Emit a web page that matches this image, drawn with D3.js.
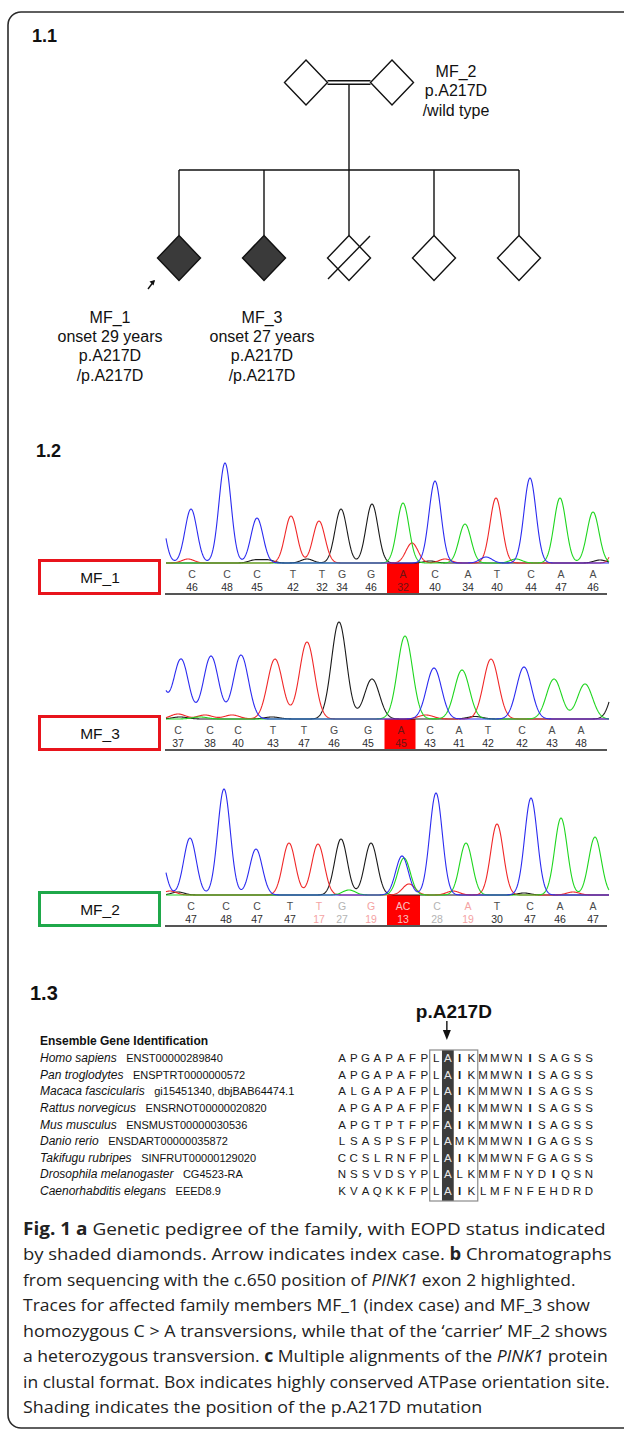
<!DOCTYPE html>
<html><head><meta charset="utf-8">
<script src="https://cdn.jsdelivr.net/npm/d3@7"></script>
<style>body{margin:0;background:#fff}svg{display:block}</style>
</head><body>
<svg id="fig" width="624" height="1432"></svg>
<script>
// ================= DATA =================
const panelLabels = ["1.1", "1.2", "1.3"];

// ---- 1.1 pedigree ----
const parents = ["father", "mother"];
const children = ["MF_1", "MF_3", "sib3", "sib4", "sib5"];
const childAffected = [true, true, false, false, false];
const childDeceased = [false, false, true, false, false];
const indexCase = "MF_1";
const mf2Label = ["MF_2", "p.A217D", "/wild type"];
const childLabels = {
  "MF_1": ["MF_1", "onset 29 years", "p.A217D", "/p.A217D"],
  "MF_3": ["MF_3", "onset 27 years", "p.A217D", "/p.A217D"]
};

// ---- 1.2 chromatograms ----
const samples = ["MF_1", "MF_3", "MF_2"];
const sampleStatus = ["affected", "affected", "carrier"];
const baseLetters = [
  ["C","C","C","T","T","G","G","A","C","A","T","C","A","A"],
  ["C","C","C","T","T","G","G","A","C","A","T","C","A","A"],
  ["C","C","C","T","T","G","G","AC","C","A","T","C","A","A"]
];
const baseQuality = [
  [46,48,45,42,32,34,46,32,40,34,40,44,47,46],
  [37,38,40,43,47,46,45,45,43,41,42,42,43,48],
  [47,48,47,47,17,27,19,13,28,19,30,47,46,47]
];
// scan position of each base call
const baseScan = [
  [26,61,91,127,156,176,205,237,269,302,331,365,395,427],
  [12,44,72,107,138,168,202,235,264,293,322,356,386,415],
  [25,60,91,124,153,176,205,237,271,302,331,364,394,427]
];
const mutatedBase = 7; // c.650
// peaks: [channel, scan position, signal height]
const peaksMF1 = [
  ["C",-8,60],["C",25,54],["C",59,100],["C",91,45],["T",125,47],["T",153,42],
  ["G",175,54],["G",206,59],["A",237,60],["T",246,20],["C",269,82],["A",299,39],
  ["T",330,65],["C",364,85],["A",394,65],["A",427,51],["T",456,60],
  ["T",22,4],["G",89,3],["G",102,3],["G",141,4],["C",320,6],["A",350,4],
  ["G",434,3],["T",279,4],["G",264,2]
];
const peaksMF3 = [
  ["C",-11,60],["C",15,60],["C",45,63],["C",75,64],["T",109,60],["T",141,77],
  ["G",173,97],["G",206,40],["A",239,83],["C",268,51],["A",296,49],["T",325,60],
  ["C",358,52],["A",388,40],["A",419,35],["G",454,50],
  ["T",12,5],["T",39,4],["T",66,4],["G",14,2],["G",106,2],["T",260,4],["G",309,2.5],["A",34,2]
];
const peaksMF2 = [
  ["C",-8,50],["C",24,57],["C",58,106],["C",90,46],["T",123,52],["T",152,51],
  ["G",175,56],["G",205,52],["C",236,39],["A",238,37],["T",243,11],["C",270,102],
  ["A",300,52],["T",331,71],["C",365,97],["A",395,77],["A",429,58],
  ["A",183,5],["T",287,4],["G",12,3],["T",4,4],["G",358,2],["T",407,3]
];
const samplePeaks = [peaksMF1, peaksMF3, peaksMF2];
const channels = ["G", "T", "A", "C"];
const channelColors = ["#1a1a1a", "#f02828", "#1fd61f", "#2b2bf0"];

// ---- 1.3 alignment ----
const alignHeader = "Ensemble Gene Identification";
const species = ["Homo sapiens","Pan troglodytes","Macaca fascicularis","Rattus norvegicus",
  "Mus musculus","Danio rerio","Takifugu rubripes","Drosophila melanogaster","Caenorhabditis elegans"];
const speciesIds = ["ENST00000289840","ENSPTRT0000000572","gi15451340, dbjBAB64474.1",
  "ENSRNOT00000020820","ENSMUST00000030536","ENSDART00000035872","SINFRUT00000129020",
  "CG4523-RA","EEED8.9"];
const sequences = [
  "APGAPAFPLAIKMMWNISAGSS","APGAPAFPLAIKMMWNISAGSS","ALGAPAFPLAIKMMWNISAGSS",
  "APGAPAFPFAIKMMWNISAGSS","APGTPTFPFAIKMMWNISAGSS","LSASPSFPLAMKMMWNIGAGSS",
  "CCSLRNFPLAIKMMWNFGAGSS","NSSVDSYPLALKMMFNYDIQSN","KVAQKKFPLAIKLMFNFEHDRD"];
const conservedBox = [8, 11];
const mutationColumn = 9;
const mutationLabel = "p.A217D";

// ---- caption ----
const captionLines = [
  [["Fig. 1","b"],[" "],["a","b"],[" Genetic pedigree of the family, with EOPD status indicated"]],
  [["by shaded diamonds. Arrow indicates index case. "],["b","b"],[" Chromatographs"]],
  [["from sequencing with the c.650 position of "],["PINK1","i"],[" exon 2 highlighted."]],
  [["Traces for affected family members MF_1 (index case) and MF_3 show"]],
  [["homozygous C > A transversions, while that of the \u2018carrier\u2019 MF_2 shows"]],
  [["a heterozygous transversion. "],["c","b"],[" Multiple alignments of the "],["PINK1","i"],[" protein"]],
  [["in clustal format. Box indicates highly conserved ATPase orientation site."]],
  [["Shading indicates the position of the p.A217D mutation"]]
];

// ================= DRAW =================
const svg = d3.select("#fig");
const SANS = "'Liberation Sans', Arial, sans-serif";

// frame
svg.append("path")
  .attr("d", "M626,12H21A13,13 0 0 0 8,25V1415A13,13 0 0 0 21,1428H626")
  .attr("fill", "none").attr("stroke", "#2b2b2b").attr("stroke-width", 1.6);

// panel labels
const labelPos = [[32, 42, 18], [36, 457, 18], [30, 1000, 20]];
svg.selectAll("text.plabel").data(panelLabels).join("text")
  .attr("class", "plabel")
  .attr("x", (d, i) => labelPos[i][0]).attr("y", (d, i) => labelPos[i][1])
  .attr("font-family", SANS).attr("font-weight", "bold")
  .attr("font-size", (d, i) => labelPos[i][2]).attr("fill", "#111")
  .text(d => d);

// ---------- pedigree ----------
const ped = svg.append("g").attr("stroke", "#111").attr("stroke-width", 1.4).attr("fill", "none");
const parentX = d3.scalePoint().domain(parents).range([306, 392]);
const childX = d3.scalePoint().domain(children).range([179, 519]);
const genY = d3.scalePoint().domain(["I", "II"]).range([82.5, 258]);
const sibY = 170;
const hw = 21.5, hh = 22.5;
const diamond = (cx, cy) => `M${cx},${cy - hh}L${cx + hw},${cy}L${cx},${cy + hh}L${cx - hw},${cy}Z`;

const pL = parentX(parents[0]), pR = parentX(parents[1]), yI = genY("I"), yII = genY("II");
[-1.8, 1.8].forEach(off => ped.append("line")
  .attr("x1", pL + hw).attr("x2", pR - hw).attr("y1", yI + off).attr("y2", yI + off));
const midX = (pL + pR) / 2;
ped.append("line").attr("x1", midX).attr("x2", midX).attr("y1", yI + 1.8).attr("y2", sibY);
ped.append("line").attr("x1", childX(children[0])).attr("x2", childX(children[children.length - 1]))
  .attr("y1", sibY).attr("y2", sibY);
ped.selectAll("line.drop").data(children).join("line").attr("class", "drop")
  .attr("x1", d => childX(d)).attr("x2", d => childX(d)).attr("y1", sibY).attr("y2", yII - hh);
ped.selectAll("path.par").data(parents).join("path").attr("class", "par")
  .attr("d", d => diamond(parentX(d), yI)).attr("fill", "#fff");
ped.selectAll("path.kid").data(children).join("path").attr("class", "kid")
  .attr("d", d => diamond(childX(d), yII))
  .attr("fill", (d, i) => childAffected[i] ? "#3a3a3a" : "#fff");
children.forEach((c, i) => {
  if (childDeceased[i]) {
    const cx = childX(c);
    ped.append("line").attr("x1", cx - 21).attr("y1", yII + 21).attr("x2", cx + 21).attr("y2", yII - 22);
  }
});
// index arrow
{
  const cx = childX(indexCase);
  const tip = [cx - 25, yII + 23], tail = [cx - 31, yII + 31];
  ped.append("line").attr("x1", tail[0]).attr("y1", tail[1]).attr("x2", tip[0]).attr("y2", tip[1]);
  ped.append("path").attr("fill", "#111").attr("stroke", "none")
    .attr("d", `M${tip[0] + 1},${tip[1] - 1}L${tip[0] - 4.5},${tip[1] + 0.5}L${tip[0] - 0.5},${tip[1] + 4.5}Z`);
}
// labels
const pedText = svg.append("g").attr("font-family", SANS).attr("font-size", 16)
  .attr("fill", "#111").attr("text-anchor", "middle");
pedText.selectAll("text.m2").data(mf2Label).join("text").attr("class", "m2")
  .attr("x", pR + 64).attr("y", (d, i) => 77 + i * 19.3).text(d => d);
const childLabelX = { "MF_1": childX("MF_1") - 69, "MF_3": childX("MF_3") - 2 };
Object.keys(childLabels).forEach(k => {
  pedText.selectAll(null).data(childLabels[k]).join("text")
    .attr("x", childLabelX[k]).attr("y", (d, i) => 323 + i * 19.2).text(d => d);
});

// ---------- chromatograms ----------
const chromBase = [563, 719, 895];
const sigma = [6, 7.5, 6.3];
const xScan = d3.scaleLinear().domain([0, 443]).range([166, 609]);
const qualColor = q => q < 20 ? "#f4a3a3" : q < 30 ? "#b4b4b4" : "#4a4a4a";
const hiColor = q => q < 20 ? "#f8c0c0" : "#6e1414";
const boxColor = { affected: "#e8141c", carrier: "#1fa84a" };

samples.forEach((s, si) => {
  const base = chromBase[si];
  const y = d3.scaleLinear().domain([0, 100]).range([base, base - 100]);
  const g = svg.append("g");
  const scans = baseScan[si];
  // highlight
  const m = mutatedBase;
  const hx0 = xScan((scans[m - 1] + scans[m]) / 2), hx1 = xScan((scans[m] + scans[m + 1]) / 2);
  g.append("rect").attr("x", hx0).attr("y", base).attr("width", hx1 - hx0).attr("height", 31)
    .attr("fill", "#ff0000");
  // traces
  const pk = samplePeaks[si];
  const sg = sigma[si];
  const grid = d3.range(0, 443.5, 0.5);
  const line = d3.line().x(d => xScan(d[0])).y(d => y(d[1]));
  channels.forEach((ch, ci) => {
    const mine = pk.filter(p => p[0] === ch);
    const pts = grid.map(t => [t, d3.sum(mine, p => p[2] * Math.exp(-((t - p[1]) ** 2) / (2 * sg * sg)))]);
    g.append("path").attr("d", line(pts)).attr("fill", "none")
      .attr("stroke", channelColors[ci]).attr("stroke-width", 1.1);
  });
  // base calls
  const letters = baseLetters[si], quals = baseQuality[si];
  g.selectAll("text.bl").data(letters).join("text")
    .attr("x", (d, i) => xScan(scans[i])).attr("y", base + 15)
    .attr("text-anchor", "middle").attr("font-family", SANS).attr("font-size", 10.5)
    .attr("fill", (d, i) => i === m ? hiColor(quals[i]) : qualColor(quals[i])).text(d => d);
  g.selectAll("text.bq").data(quals).join("text")
    .attr("x", (d, i) => xScan(scans[i])).attr("y", base + 27.5)
    .attr("text-anchor", "middle").attr("font-family", SANS).attr("font-size", 10.5)
    .attr("fill", (d, i) => i === m ? hiColor(d) : (d < 30 ? qualColor(d) : "#2e2e2e")).text(d => d);
  g.append("line").attr("x1", xScan(-1)).attr("x2", xScan(441)).attr("y1", base + 31).attr("y2", base + 31)
    .attr("stroke", "#555").attr("stroke-width", 2);
  // sample box
  g.append("rect").attr("x", 39.5).attr("y", base - 2.5).attr("width", 120).attr("height", 33)
    .attr("fill", "#fff").attr("stroke", boxColor[sampleStatus[si]]).attr("stroke-width", 3);
  g.append("text").attr("x", 100).attr("y", base + 20).attr("text-anchor", "middle")
    .attr("font-family", SANS).attr("font-size", 15.5).attr("fill", "#111").text(s);
});

// ---------- alignment ----------
const rowY = d3.scalePoint().domain(species).range([1062, 1195]);
const colX = d3.scalePoint().domain(d3.range(22)).range([342, 589]);
const al = svg.append("g");
al.append("text").attr("x", 40).attr("y", 1045).attr("font-family", SANS).attr("font-weight", "bold")
  .attr("font-size", 12).attr("fill", "#111").text(alignHeader);
const spT = al.selectAll("text.sp").data(species).join("text").attr("class", "sp")
  .attr("x", 40).attr("y", d => rowY(d)).attr("font-family", SANS).attr("fill", "#111");
spT.append("tspan").attr("font-style", "italic").attr("font-size", 12).text(d => d);
spT.append("tspan").attr("font-size", 11).attr("dx", 9.5).text((d, i) => speciesIds[i]);

const step = colX.step();
const boxTop = rowY(species[0]) - 12, boxBot = rowY(species[species.length - 1]) + 6;
al.append("rect").attr("x", colX(mutationColumn) - step / 2).attr("y", boxTop)
  .attr("width", step).attr("height", boxBot - boxTop).attr("fill", "#3c3c3c");
al.append("rect").attr("x", colX(conservedBox[0]) - step / 2 - 0.5).attr("y", boxTop)
  .attr("width", colX(conservedBox[1]) - colX(conservedBox[0]) + step + 1).attr("height", boxBot - boxTop)
  .attr("fill", "none").attr("stroke", "#8a8a8a").attr("stroke-width", 1.2);
sequences.forEach((seq, ri) => {
  al.selectAll(null).data(seq.split("")).join("text")
    .attr("x", (d, i) => colX(i)).attr("y", rowY(species[ri]))
    .attr("text-anchor", "middle").attr("font-family", SANS).attr("font-size", 11.5)
    .attr("font-weight", d => d === "I" ? "bold" : "normal")
    .attr("fill", (d, i) => i === mutationColumn ? "#e8e8e8" : "#1a1a1a").text(d => d);
});
// mutation label and arrow
const mx = colX(mutationColumn);
al.append("text").attr("x", mx + 6).attr("y", 1018).attr("text-anchor", "middle")
  .attr("font-family", SANS).attr("font-weight", "bold").attr("font-size", 19).attr("fill", "#111").text(mutationLabel);
al.append("line").attr("x1", mx - 1).attr("x2", mx - 1).attr("y1", 1021).attr("y2", 1033)
  .attr("stroke", "#111").attr("stroke-width", 1.4);
al.append("path").attr("d", `M${mx - 5},${1030}L${mx + 3},${1030}L${mx - 1},${1040}Z`).attr("fill", "#111");

// ---------- caption ----------
// right ends of the full-width lines; the short last line takes the mean scale
const captionEnds = [606, 612, 576, 590, 608, 608, 610, null];
const cap = svg.append("g").attr("font-family", "'Open Sans', sans-serif").attr("font-size", 17).attr("fill", "#222");
const capNodes = captionLines.map(segs => {
  const t = cap.append("text").attr("x", 0).attr("y", 0).attr("xml:space", "preserve");
  segs.forEach(sg2 => {
    const ts = t.append("tspan").text(sg2[0]);
    if (sg2[1] === "b") ts.attr("font-weight", "bold");
    if (sg2[1] === "i") ts.attr("font-style", "italic");
  });
  return t;
});
const scales = capNodes.map((t, li) => captionEnds[li] == null ? null :
  (captionEnds[li] - 23) / t.node().getComputedTextLength());
const meanK = d3.mean(scales.filter(k => k != null));
capNodes.forEach((t, li) => {
  const kx = scales[li] == null ? meanK : scales[li];
  t.attr("transform", `translate(23,${1235 + li * 25.45}) scale(${kx},1)`);
});
</script>
</body></html>
